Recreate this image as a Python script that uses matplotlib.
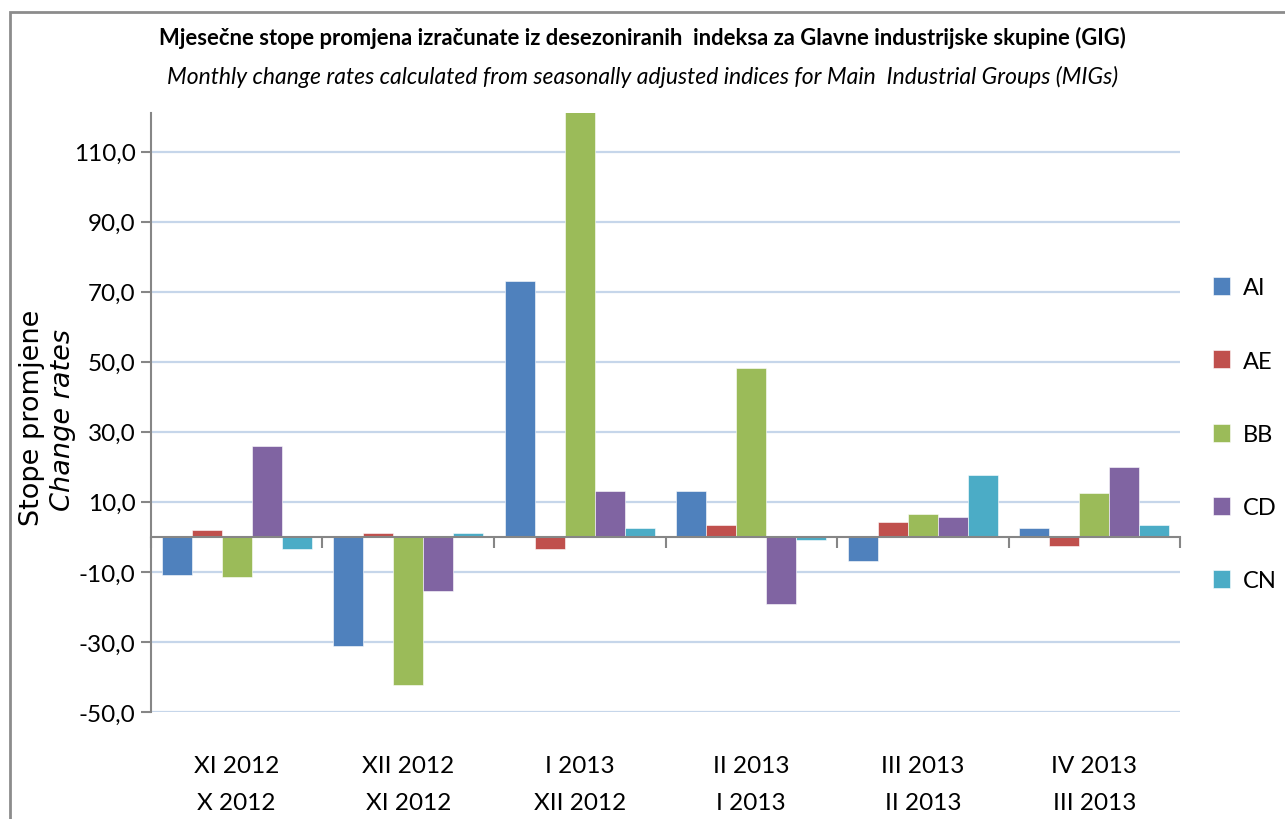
import numpy as np
import matplotlib
matplotlib.use('agg')
import matplotlib.pyplot as plt
from matplotlib.patches import Rectangle

plt.rcParams['font.family'] = ['Lato', 'DejaVu Sans']

# data
categories = ['XI 2012\nX 2012', 'XII 2012\nXI 2012', 'I 2013\nXII 2012',
              'II 2013\nI 2013', 'III 2013\nII 2013', 'IV 2013\nIII 2013']
series = ['AI', 'AE', 'BB', 'CD', 'CN']
AI = [-10.8, -31.1, 73.1, 13.1, -7.0, 2.6]
AE = [1.9, 1.0, -3.4, 3.4, 4.2, -2.6]
BB = [-11.6, -42.4, 125.0, 48.3, 6.4, 12.4]
CD = [25.8, -15.4, 13.1, -19.1, 5.6, 19.9]
CN = [-3.4, 1.0, 2.6, -0.9, 17.6, 3.4]
yticks = [-50, -30, -10, 10, 30, 50, 70, 90, 110]

colors = ['#4F81BD', '#C0504D', '#9BBB59', '#8064A2', '#4BACC6']
gray = '#868686'

fig = plt.figure(figsize=(12.85, 8.2), dpi=100)
ax = fig.add_axes([0.1175, 0.1305, 0.8008, 0.7305])

x = np.arange(len(categories))
w = 0.175
handles = []
for i, (name, vals) in enumerate(zip(series, [AI, AE, BB, CD, CN])):
    b = ax.bar(x + (i - 2) * w, vals, w, color=colors[i], label=name,
               edgecolor='white', linewidth=0.4, zorder=2)
    handles.append(b)

ax.set_xlim(-0.5, len(categories) - 0.5)
ax.set_ylim(-50, 121)

ax.set_yticks(yticks)
ax.yaxis.set_major_formatter(matplotlib.ticker.FuncFormatter(
    lambda v, p: f"{v:.1f}".replace('.', ',')))
ax.tick_params(axis='y', direction='out', length=7, width=1.5, color=gray,
               labelsize=17.5, pad=4)
ax.yaxis.grid(True, color='#C6D6EA', linewidth=1.6)
ax.set_axisbelow(True)

for s in ['top', 'right']:
    ax.spines[s].set_visible(False)
ax.spines['left'].set_color(gray)
ax.spines['left'].set_linewidth(1.5)
ax.spines['bottom'].set_position(('data', 0))
ax.spines['bottom'].set_color(gray)
ax.spines['bottom'].set_linewidth(1.5)
ax.spines['bottom'].set_zorder(3)

ax.set_xticks(np.arange(-0.5, len(categories), 1))
ax.tick_params(axis='x', direction='out', length=8, width=1.5, color=gray,
               labelbottom=False)

sec = ax.secondary_xaxis('bottom')
sec.set_xticks(x, categories)
sec.tick_params(length=0, pad=31, labelsize=17.5)
for lab in sec.get_xticklabels():
    lab.set_linespacing(1.95)
sec.spines['bottom'].set_visible(False)

leg = ax.legend(handles=handles, loc='upper left',
                bbox_to_anchor=(1192 / 1285, 1 - 257 / 820),
                bbox_transform=fig.transFigure, frameon=False, fontsize=17,
                labelspacing=2.2, handlelength=0.7, handleheight=0.8,
                handletextpad=0.55)

fig.text(0.5, 1 - 38 / 820,
         'Mjesečne stope promjena izračunate iz desezoniranih  indeksa za Glavne industrijske skupine (GIG)',
         ha='center', va='center', fontsize=15.8, fontweight='bold')
fig.text(0.5, 1 - 77 / 820,
         'Monthly change rates calculated from seasonally adjusted indices for Main  Industrial Groups (MIGs)',
         ha='center', va='center', fontsize=16.5, style='italic')

fig.text(32 / 1285, 1 - 418 / 820, 'Stope promjene', rotation=90,
         ha='center', va='center', fontsize=19.5, family='DejaVu Sans')
fig.text(63 / 1285, 1 - 420 / 820, 'Change rates', rotation=90,
         ha='center', va='center', fontsize=19.5, family='DejaVu Sans',
         style='italic')

fig.add_artist(Rectangle((10 / 1285, -0.1), 1.2, 1.1 - 13 / 820,
                         transform=fig.transFigure, fill=False,
                         edgecolor='#8C8C8C', linewidth=2))

fig.savefig('out.png', dpi=100)
